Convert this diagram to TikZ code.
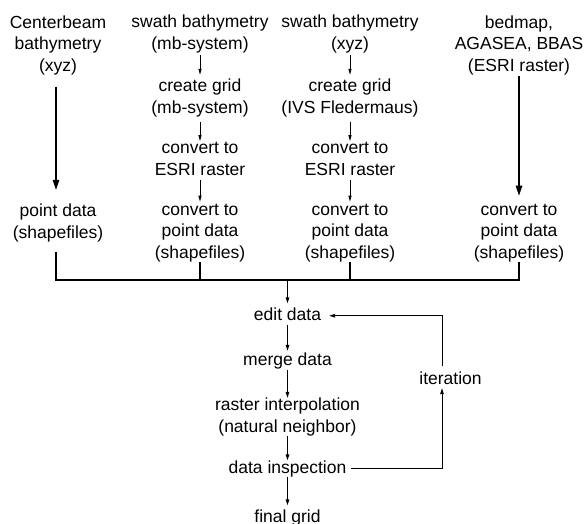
\documentclass[tikz,border=0pt]{standalone}
\usepackage{fontspec}
\setmainfont{Liberation Sans}
\usetikzlibrary{arrows.meta,calc}
\begin{document}
\begin{tikzpicture}[x=1pt,y=-1pt,
  lbl/.style={align=center,inner sep=0pt,outer sep=0pt,anchor=base,font=\fontsize{17.5}{21.5}\selectfont},
  bigarrow/.style={line width=1.3pt,-{Triangle[length=10pt,width=6.5pt]}},
  smallarrow/.style={line width=0.8pt,-{Triangle[length=6pt,width=3pt]}},
  midarrow/.style={line width=1pt,-{Triangle[length=6pt,width=3.5pt]}},
  bus/.style={line width=1.3pt}]
\useasboundingbox (0,0) rectangle (584,523);
% top row (anchor = baseline of last line)
\node[lbl] (c1a) at (58,71) {Centerbeam\\bathymetry\\(xyz)};
\node[lbl] (c2a) at (200,49) {swath bathymetry\\(mb-system)};
\node[lbl] (c3a) at (350,49) {swath bathymetry\\(xyz)};
\node[lbl] (c4a) at (519,71) {bedmap,\\AGASEA, BBAS\\(ESRI raster)};
% column 2
\node[lbl] (c2b) at (200,113) {create grid\\(mb-system)};
\node[lbl] (c2c) at (200,175) {convert to\\ESRI raster};
\node[lbl] (c2d) at (200,258) {convert to\\point data\\(shapefiles)};
% column 3
\node[lbl] (c3b) at (350,113) {create grid\\(IVS Fledermaus)};
\node[lbl] (c3c) at (350,175) {convert to\\ESRI raster};
\node[lbl] (c3d) at (350,258) {convert to\\point data\\(shapefiles)};
% columns 1 and 4 lower
\node[lbl] (c1d) at (58,238) {point data\\(shapefiles)};
\node[lbl] (c4d) at (519,258) {convert to\\point data\\(shapefiles)};
% central chain
\node[lbl] (edit) at (287.5,320) {edit data};
\node[lbl] (merge) at (287.5,365) {merge data};
\node[lbl] (interp) at (287.5,432) {raster interpolation\\(natural neighbor)};
\node[lbl] (insp) at (287.5,473) {data inspection};
\node[lbl] (final) at (287.5,522) {final grid};
\node[lbl] (iter) at (450.5,384) {iteration};
\coordinate (hub) at (287.5,280);
% arrows top
\draw[bigarrow,shorten <=12pt,shorten >=14pt] ([xshift=-2pt]c1a.south) -- ([xshift=-2pt]c1d.north);
\draw[bigarrow,shorten <=1.5pt,shorten >=8pt] (c4a.south) -- (c4d.north);
\draw[smallarrow,shorten <=2pt,shorten >=4pt] (c2a.south) -- (c2b.north);
\draw[smallarrow,shorten <=5pt,shorten >=1pt] (c2b.south) -- (c2c.north);
\draw[smallarrow,shorten <=5pt,shorten >=2pt] (c2c.south) -- (c2d.north);
\draw[smallarrow,shorten <=2pt,shorten >=4pt] (c3a.south) -- (c3b.north);
\draw[smallarrow,shorten <=5pt,shorten >=1pt] (c3b.south) -- (c3c.north);
\draw[smallarrow,shorten <=5pt,shorten >=2pt] (c3c.south) -- (c3d.north);
% bus
\draw[bus] ([xshift=-2pt,yshift=-10pt]c1d.south) |- (hub) -| (c4d.south);
\draw[bus] (c2d.south) -- (c2d.south |- hub);
\draw[bus] (c3d.south) -- (c3d.south |- hub);
% central
\draw[midarrow,shorten >=4pt] (hub) -- (edit.north);
\draw[midarrow,shorten <=5pt,shorten >=1.5pt] (edit) -- (merge);
\draw[midarrow,shorten <=1.3pt] (merge) -- (interp);
\draw[midarrow] (interp) -- (insp);
\draw[midarrow,shorten >=4pt] (insp) -- (final);
% loop
\draw[midarrow,shorten <=5pt,shorten >=4pt] (insp.east) -| ([xshift=-8.5pt]iter.south);
\draw[midarrow,shorten <=5pt] ([xshift=-8.5pt]iter.north) |- ([xshift=8pt,yshift=-2pt]edit.east);
\end{tikzpicture}
\end{document}
